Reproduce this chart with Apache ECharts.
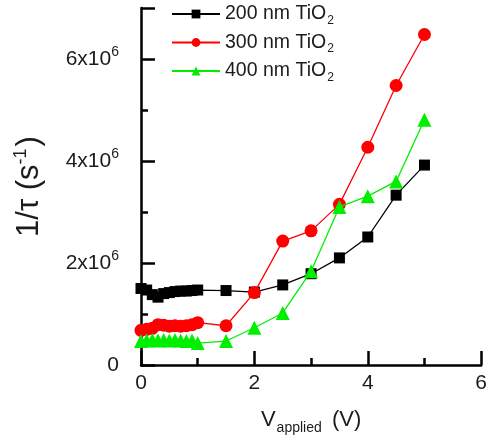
<!DOCTYPE html>
<html>
<head>
<meta charset="utf-8">
<script src="https://cdn.jsdelivr.net/npm/echarts@6/dist/echarts.min.js"></script>
<style>
  html, body { margin: 0; padding: 0; background: #fff; }
  #chart { width: 490px; height: 440px; }
</style>
</head>
<body>
<div id="chart"></div>
<script>
// Applied bias (V)
const voltage = [0, 0.1, 0.2, 0.3, 0.4, 0.5, 0.6, 0.7, 0.8, 0.9, 1.0, 1.5, 2.0, 2.5, 3.0, 3.5, 4.0, 4.5, 5.0];

// Inverse recombination lifetime 1/tau (s^-1) per TiO2 thickness
const tio2_200 = [1.50e6, 1.47e6, 1.38e6, 1.33e6, 1.40e6, 1.42e6, 1.44e6, 1.45e6, 1.45e6, 1.46e6, 1.47e6,
                  1.46e6, 1.43e6, 1.57e6, 1.79e6, 2.10e6, 2.51e6, 3.33e6, 3.92e6];
const tio2_300 = [0.68e6, 0.70e6, 0.72e6, 0.79e6, 0.78e6, 0.76e6, 0.77e6, 0.76e6, 0.77e6, 0.79e6, 0.83e6,
                  0.77e6, 1.42e6, 2.43e6, 2.63e6, 3.15e6, 4.27e6, 5.48e6, 6.48e6];
const tio2_400 = [0.47e6, 0.48e6, 0.49e6, 0.48e6, 0.49e6, 0.48e6, 0.49e6, 0.48e6, 0.47e6, 0.48e6, 0.43e6,
                  0.47e6, 0.73e6, 1.02e6, 1.84e6, 3.10e6, 3.31e6, 3.60e6, 4.81e6];

const seriesNames = ['200 nm TiO{sub|2}', '300 nm TiO{sub|2}', '400 nm TiO{sub|2}'];
const yTickValues = [0, 2e6, 4e6, 6e6];

const FONT = '"Liberation Sans", Arial, Helvetica, sans-serif';
const INK = '#1c1c1c';
const pairs = ys => voltage.map((v, i) => [v, ys[i]]);

const chart = echarts.init(document.getElementById('chart'), null, { renderer: 'canvas' });

const axisLine = { lineStyle: { color: '#000', width: 2.5 } };
const majorTick = { inside: true, length: 14, lineStyle: { color: '#000', width: 2.5 } };
const minorTickStyle = { color: '#000', width: 2.5 };

chart.setOption({
  animation: false,
  backgroundColor: '#fff',
  textStyle: { fontFamily: FONT },
  grid: { left: 141, right: 6, top: 8, bottom: 74, containLabel: false },
  legend: {
    orient: 'vertical',
    left: 166,
    top: -1,
    itemWidth: 48,
    itemHeight: 11,
    itemGap: 6,
    data: seriesNames,
    formatter: n => n,
    textStyle: {
      fontFamily: FONT,
      fontSize: 19.5,
      color: INK,
      rich: {
        sub: { fontSize: 12, fontFamily: FONT, color: INK, padding: [13, 0, 0, 1] }
      }
    }
  },
  xAxis: {
    type: 'value',
    min: 0, max: 6, interval: 2,
    name: 'V{sub|applied} (V)',
    nameLocation: 'middle',
    nameGap: 40,
    nameTextStyle: {
      fontFamily: FONT, fontSize: 22, color: INK,
      rich: { sub: { fontSize: 14, fontFamily: FONT, color: INK, padding: [16, 4, 0, 1] } }
    },
    axisLine: axisLine,
    axisTick: majorTick,
    minorTick: { show: true, splitNumber: 2, length: 7, lineStyle: minorTickStyle },
    axisLabel: { fontFamily: FONT, fontSize: 21, color: INK, margin: 8 },
    splitLine: { show: false }
  },
  yAxis: [
    {
      type: 'value',
      min: 0, max: 7e6, interval: 2e6,
      name: '1/τ (s{sup|-1})',
      nameLocation: 'middle',
      nameRotate: 90,
      nameGap: 95,
      nameTextStyle: {
        fontFamily: FONT, fontSize: 31, color: INK,
        rich: { sup: { fontSize: 18, fontFamily: FONT, color: INK, padding: [0, 2, 16, 0] } }
      },
      axisLine: axisLine,
      axisTick: majorTick,
      axisLabel: {
        fontFamily: FONT, fontSize: 21, color: INK, margin: 22,
        formatter: v => (yTickValues.indexOf(v) < 0 ? '' : (v === 0 ? '0' : (v / 1e6) + 'x10{sup|6}')),
        rich: { sup: { fontSize: 14, fontFamily: FONT, color: INK, padding: [0, 0, 14, 0] } }
      },
      splitLine: { show: false }
    },
    {
      // short ticks at every 1e6
      type: 'value',
      position: 'left',
      min: 0, max: 7e6, interval: 1e6,
      axisLine: { show: false },
      axisTick: { inside: true, length: 7, lineStyle: minorTickStyle },
      axisLabel: { show: false },
      splitLine: { show: false }
    }
  ],
  series: [
    {
      name: seriesNames[0], type: 'line', data: pairs(tio2_200),
      symbol: 'rect', symbolSize: 11, z: 3,
      lineStyle: { color: '#000', width: 1.3 },
      itemStyle: { color: '#000' }
    },
    {
      name: seriesNames[1], type: 'line', data: pairs(tio2_300),
      symbol: 'circle', symbolSize: 13, z: 4,
      lineStyle: { color: '#ff0000', width: 1.3 },
      itemStyle: { color: '#ff0000' }
    },
    {
      name: seriesNames[2], type: 'line', data: pairs(tio2_400),
      symbol: 'triangle', symbolSize: 14, z: 5,
      lineStyle: { color: '#00ee00', width: 1.3 },
      itemStyle: { color: '#00ee00' }
    }
  ]
});
</script>
</body>
</html>
